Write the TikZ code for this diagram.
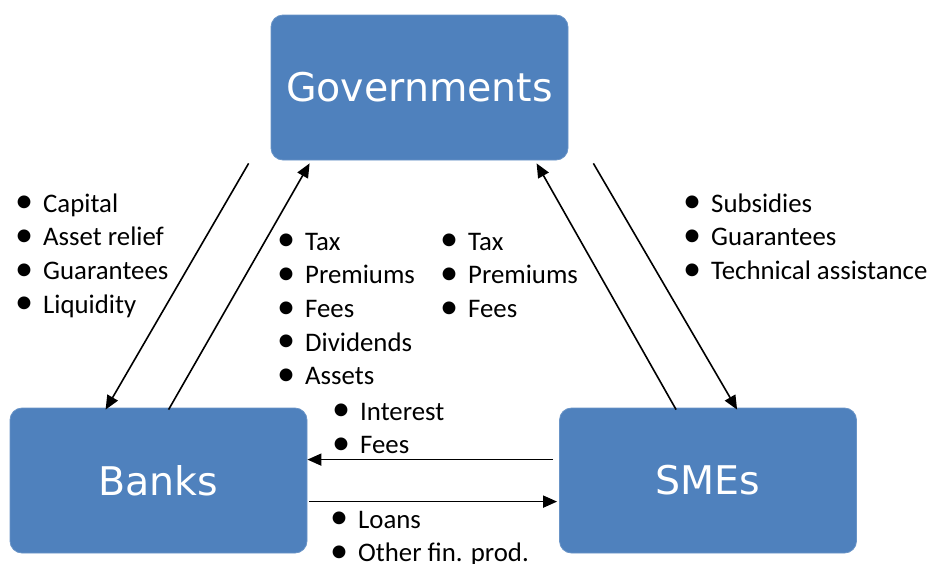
\documentclass[tikz,border=0pt]{standalone}
\usepackage{fontspec}
\setmainfont{Carlito}
\newfontfamily\boxfont{DejaVu Sans}
\usetikzlibrary{arrows.meta,calc}
\definecolor{boxblue}{HTML}{4F81BD}
\newcommand\bl[1]{\makebox[0pt]{\raisebox{-0.6pt}{\scalebox{1.35}{•}}}\hspace{19pt}#1}
\begin{document}
\begin{tikzpicture}[x=1pt,y=-1pt,
  box/.style={draw=boxblue!85!white,line width=0.8pt,fill=boxblue,rounded corners=12pt,
    minimum width=297pt,minimum height=145pt,inner sep=0pt,text=white,
    font=\boxfont\fontsize{39.5}{44}\selectfont},
  lst/.style={anchor=base west,inner sep=0pt,font=\fontsize{26.8}{33.7}\selectfont},
  conn/.style={line width=1.6pt,-{Triangle[length=14pt,width=12pt]}}]
\useasboundingbox (0,0) rectangle (929,563);
\node[box] (gov) at (419.5,87.5) {Governments};
\node[box] (banks) at (158.5,480.5) {Banks};
\node[box] (smes) at (708,480.5) {SMEs};

\draw[conn] ([xshift=-22pt,yshift=-3pt]gov.south west) -- ([xshift=96pt,yshift=-2pt]banks.north west);
\draw[conn] ([xshift=159pt,yshift=-2pt]banks.north west) -- ([xshift=39pt,yshift=-3pt]gov.south west);
\draw[conn] ([xshift=117pt,yshift=-2pt]smes.north west) -- ([xshift=266pt,yshift=-3pt]gov.south west);
\draw[conn] ([xshift=25pt,yshift=-3pt]gov.south east) -- ([xshift=178pt,yshift=-2pt]smes.north west);
\draw[conn] ([xshift=-6pt,yshift=-52pt]smes.north west) -- ([yshift=-52pt]banks.north east);
\draw[conn] ([xshift=2pt,yshift=-94pt]banks.north east) -- ([xshift=-2pt,yshift=-94pt]smes.north west);

\node[lst] (l1) at (24,212) {\begin{tabular}[t]{@{}l@{}}\bl{Capital}\\\bl{Asset relief}\\\bl{Guarantees}\\\bl{Liquidity}\end{tabular}};
\node[lst] (l2) at (286,250) {\begin{tabular}[t]{@{}l@{}}\bl{Tax}\\\bl{Premiums}\\\bl{Fees}\\\bl{Dividends}\\\bl{Assets}\end{tabular}};
\node[lst] (l3) at (449,250) {\begin{tabular}[t]{@{}l@{}}\bl{Tax}\\\bl{Premiums}\\\bl{Fees}\end{tabular}};
\node[lst] (l4) at (692,212) {\begin{tabular}[t]{@{}l@{}}\bl{Subsidies}\\\bl{Guarantees}\\\bl{Technical assistance}\end{tabular}};
\node[lst] (l5) at (341,420) {\begin{tabular}[t]{@{}l@{}}\bl{Interest}\\\bl{Fees}\end{tabular}};
\node[lst] (l6) at (339,528) {\begin{tabular}[t]{@{}l@{}}\bl{Loans}\\\bl{Other fin. prod.}\end{tabular}};
\end{tikzpicture}
\end{document}
